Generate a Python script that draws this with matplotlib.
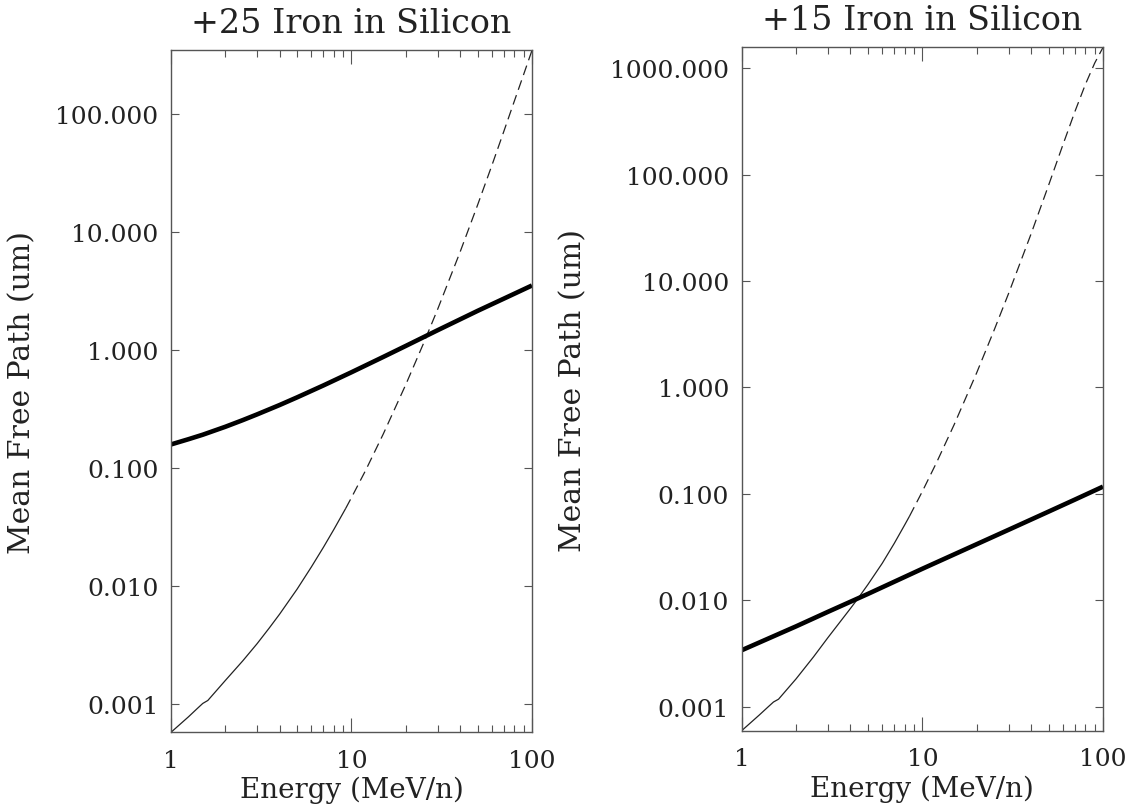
"""Mean free path of Fe ions in silicon, two charge states, log-log panels."""

import matplotlib
matplotlib.use("Agg")
import matplotlib.pyplot as plt
import matplotlib.ticker as mticker
import numpy as np

INK = "#222222"
FRAME = "#555555"
FONT = "DejaVu Serif"

# +25 charge state: thin curve (solid, then dashed above the split energy) and thick curve
LEFT_THIN_E = [1, 1.25, 1.4, 1.5, 1.6, 2, 2.5, 3, 3.5, 4, 5, 6, 7, 8, 9, 9.3, 10, 12, 15, 20, 25, 30, 40, 50,
               60, 70, 80, 90, 100]
LEFT_THIN_Y = [5.75e-4, 7.78e-4, 9.16e-4, 1.01e-3, 1.07e-3, 1.58e-3, 2.32e-3, 3.24e-3, 4.39e-3, 5.77e-3,
               9.4e-3, 0.0145, 0.0213, 0.0302, 0.0416, 0.0455, 0.056, 0.0957, 0.1935, 0.508, 1.122, 2.20,
               6.76, 16.9, 36.6, 71.6, 129, 216, 344]
LEFT_SPLIT_E = 9.3
LEFT_THICK_E = [1, 1.25, 1.5, 2, 2.5, 3, 4, 5, 7, 10, 15, 20, 30, 50, 70, 100]
LEFT_THICK_Y = [0.158, 0.175, 0.191, 0.223, 0.254, 0.284, 0.341, 0.396, 0.50, 0.646, 0.871, 1.08, 1.466,
                2.14, 2.72, 3.51]

# +15 charge state
RIGHT_THIN_E = [1, 1.25, 1.4, 1.5, 1.6, 2, 2.5, 3, 4, 4.4, 5, 6, 7, 8, 8.5, 10, 12, 15, 20, 25, 30, 40, 50, 60,
                70, 80, 90, 100]
RIGHT_THIN_Y = [5.97e-4, 8.36e-4, 9.98e-4, 1.11e-3, 1.18e-3, 1.83e-3, 2.95e-3, 4.46e-3, 8.39e-3, 0.0104,
                0.0141, 0.0223, 0.0344, 0.0514, 0.0619, 0.1054, 0.1977, 0.447, 1.374, 3.47, 7.6, 27.7, 79.3,
                190, 392, 705, 1114, 1560]
RIGHT_SPLIT_E = 8.5
RIGHT_THICK_E = [1, 2, 3, 5, 10, 20, 30, 50, 70, 100]
RIGHT_THICK_Y = [3.4e-3, 5.7e-3, 7.8e-3, 0.0115, 0.0198, 0.0337, 0.046, 0.0682, 0.0885, 0.117]

TITLES = ["+25 Iron in Silicon", "+15 Iron in Silicon"]
XLABEL = "Energy (MeV/n)"
YLABEL = "Mean Free Path (um)"


def _style_axes(ax, title, ylabel_x, xlabel_y):
    ax.set_xscale("log")
    ax.set_yscale("log")
    ax.set_xlim(1, 100)
    ax.set_title(title, fontsize=24, color=INK, family=FONT, pad=13)
    ax.set_xlabel(XLABEL, fontsize=20, color=INK, family=FONT)
    ax.set_ylabel(YLABEL, fontsize=21.5, color=INK, family=FONT)
    ax.yaxis.set_label_coords(ylabel_x, 0.5)
    ax.xaxis.set_label_coords(0.5, xlabel_y)

    for spine in ax.spines.values():
        spine.set_color(FRAME)
        spine.set_linewidth(1.0)

    ax.xaxis.set_major_locator(mticker.LogLocator(base=10, numticks=10))
    ax.xaxis.set_minor_locator(mticker.LogLocator(base=10, subs=np.arange(2, 10), numticks=10))
    ax.xaxis.set_major_formatter(mticker.FuncFormatter(lambda v, _: f"{v:g}"))
    ax.xaxis.set_minor_formatter(mticker.NullFormatter())
    ax.yaxis.set_major_locator(mticker.LogLocator(base=10, numticks=20))
    ax.yaxis.set_minor_locator(mticker.NullLocator())
    ax.yaxis.set_major_formatter(mticker.FuncFormatter(lambda v, _: f"{v:.3f}"))

    ax.tick_params(which="both", direction="in", top=True, right=True, color=FRAME, width=0.8)
    ax.tick_params(axis="x", which="major", length=10, pad=12, labelsize=18, labelcolor=INK)
    ax.tick_params(axis="x", which="minor", length=5)
    ax.tick_params(axis="y", which="major", length=5.5, pad=9, labelsize=18, labelcolor=INK)
    for lab in ax.get_xticklabels() + ax.get_yticklabels():
        lab.set_family(FONT)


def _draw_panel(ax, thin_e, thin_y, split_e, thick_e, thick_y):
    e = np.asarray(thin_e, dtype=float)
    y = np.asarray(thin_y, dtype=float)
    solid = e <= split_e
    dashed = e >= split_e
    ax.plot(e[solid], y[solid], color=INK, linewidth=0.9, solid_capstyle="butt")
    ax.plot(e[dashed], y[dashed], color=INK, linewidth=0.9, linestyle=(0, (8, 4.5)))
    ax.plot(thick_e, thick_y, color="black", linewidth=3.3, solid_capstyle="butt")
    # y range spans the thin curve exactly
    ax.set_ylim(y.min(), y.max())


fig = plt.figure(figsize=(11.33, 8.12), dpi=100)
ax_left = fig.add_axes([0.1509, 0.0969, 0.3186, 0.8397])
ax_right = fig.add_axes([0.6546, 0.0989, 0.3189, 0.8414])

_draw_panel(ax_left, LEFT_THIN_E, LEFT_THIN_Y, LEFT_SPLIT_E, LEFT_THICK_E, LEFT_THICK_Y)
_draw_panel(ax_right, RIGHT_THIN_E, RIGHT_THIN_Y, RIGHT_SPLIT_E, RIGHT_THICK_E, RIGHT_THICK_Y)
_style_axes(ax_left, TITLES[0], -0.372, -0.063)
_style_axes(ax_right, TITLES[1], -0.428, -0.064)

fig.savefig("out.png", dpi=100, facecolor="white")
